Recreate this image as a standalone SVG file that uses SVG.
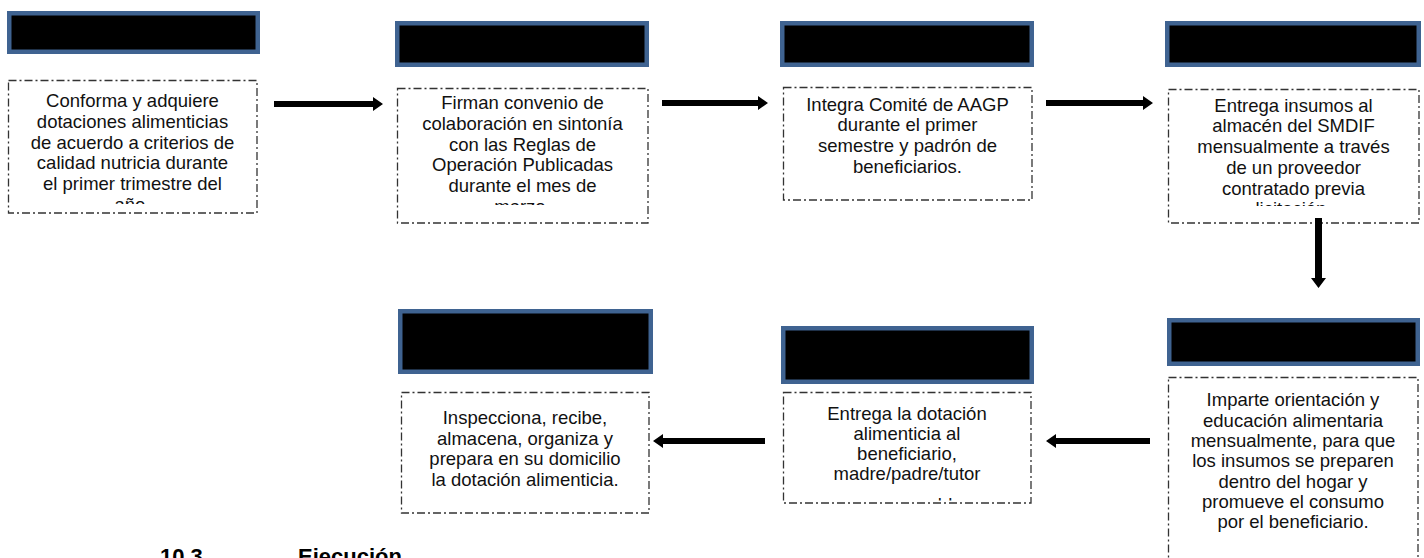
<svg xmlns="http://www.w3.org/2000/svg" width="1424" height="558" viewBox="0 0 1424 558">
<style>
.hdr{fill:#000;stroke:#3f6391;stroke-width:4.5}
.box{fill:#fff;stroke:#333;stroke-width:1.3;stroke-dasharray:8 3 2 3}
.t{font-family:"Liberation Sans",Arial,sans-serif;font-size:18.5px;fill:#111;text-anchor:middle}
.h{font-family:"Liberation Sans",Arial,sans-serif;font-size:22px;font-weight:bold;fill:#000}
.arr{fill:#000}
</style>
<defs>
<clipPath id="c1"><rect x="8" y="80" width="249" height="124"/></clipPath>
<clipPath id="c2"><rect x="397" y="88" width="251" height="117"/></clipPath>
<clipPath id="c4"><rect x="1168" y="89" width="251" height="117"/></clipPath>
<clipPath id="c6"><rect x="783" y="392" width="248" height="108.5"/></clipPath>
</defs>
<g id="n1">
<rect class="hdr" x="9.25" y="13.25" width="248.5" height="38.5"/>
<rect class="box" x="8.5" y="80.5" width="248.5" height="132.5"/>
<text class="t" clip-path="url(#c1)"><tspan x="132.5" y="107.3">Conforma y adquiere</tspan><tspan x="132.5" y="128">dotaciones alimenticias</tspan><tspan x="132.5" y="148.7">de acuerdo a criterios de</tspan><tspan x="132.5" y="169.4">calidad nutricia durante</tspan><tspan x="132.5" y="190.1">el primer trimestre del</tspan><tspan x="132.5" y="210.8">año.</tspan></text>
</g>
<g id="n2">
<rect class="hdr" x="397.25" y="23.25" width="249.5" height="41.5"/>
<rect class="box" x="397.5" y="88.5" width="250.5" height="134.5"/>
<text class="t" clip-path="url(#c2)"><tspan x="522.5" y="109.3">Firman convenio de</tspan><tspan x="522.5" y="130">colaboración en sintonía</tspan><tspan x="522.5" y="150.7">con las Reglas de</tspan><tspan x="522.5" y="171.4">Operación Publicadas</tspan><tspan x="522.5" y="192.1">durante el mes de</tspan><tspan x="522.5" y="212.8">marzo.</tspan></text>
</g>
<g id="n3">
<rect class="hdr" x="782.25" y="23.25" width="249.5" height="41.5"/>
<rect class="box" x="783.5" y="87.5" width="248.5" height="112.5"/>
<text class="t"><tspan x="907.5" y="110.7">Integra Comité de AAGP</tspan><tspan x="907.5" y="131.4">durante el primer</tspan><tspan x="907.5" y="152.1">semestre y padrón de</tspan><tspan x="907.5" y="172.8">beneficiarios.</tspan></text>
</g>
<g id="n4">
<rect class="hdr" x="1167.25" y="23.25" width="251.5" height="41.5"/>
<rect class="box" x="1168.5" y="89.5" width="250.5" height="133.5"/>
<text class="t" clip-path="url(#c4)"><tspan x="1293.5" y="111.7">Entrega insumos al</tspan><tspan x="1293.5" y="132.4">almacén del SMDIF</tspan><tspan x="1293.5" y="153.1">mensualmente a través</tspan><tspan x="1293.5" y="173.8">de un proveedor</tspan><tspan x="1293.5" y="194.5">contratado previa</tspan><tspan x="1293.5" y="215.2">licitación.</tspan></text>
</g>
<g id="n5">
<rect class="hdr" x="1169.25" y="320.25" width="248.5" height="43.5"/>
<rect class="box" x="1168.5" y="377.5" width="249.5" height="190"/>
<text class="t"><tspan x="1293" y="406">Imparte orientación y</tspan><tspan x="1293" y="426.5">educación alimentaria</tspan><tspan x="1293" y="447">mensualmente, para que</tspan><tspan x="1293" y="467.3">los insumos se preparen</tspan><tspan x="1293" y="487.5">dentro del hogar y</tspan><tspan x="1293" y="507.5">promueve el consumo</tspan><tspan x="1293" y="527.5">por el beneficiario.</tspan></text>
</g>
<g id="n6">
<rect class="hdr" x="783.25" y="328.25" width="248.5" height="53.5"/>
<rect class="box" x="783.5" y="392.5" width="247.5" height="110.5"/>
<text class="t" clip-path="url(#c6)"><tspan x="907" y="420">Entrega la dotación</tspan><tspan x="907" y="440">alimenticia al</tspan><tspan x="907" y="460">beneficiario,</tspan><tspan x="907" y="480">madre/padre/tutor</tspan><tspan x="907" y="511">o responsable.</tspan></text>
</g>
<g id="n7">
<rect class="hdr" x="400.25" y="311.25" width="250.5" height="60.5"/>
<rect class="box" x="401.5" y="392.5" width="247.5" height="120.5"/>
<text class="t"><tspan x="525" y="424">Inspecciona, recibe,</tspan><tspan x="525" y="444.5">almacena, organiza y</tspan><tspan x="525" y="465">prepara en su domicilio</tspan><tspan x="525" y="485.5">la dotación alimenticia.</tspan></text>
</g>
<g id="connectors">
<path class="arr" d="M274 101 H373 V97 L383 104 L373 111 V107 H274 Z"/>
<path class="arr" d="M662 100 H758 V96 L768 103 L758 110 V106 H662 Z"/>
<path class="arr" d="M1046 100 H1143 V96 L1153 103 L1143 110 V106 H1046 Z"/>
<path class="arr" d="M1315 218 V278 H1311 L1318.5 288 L1326 278 H1322 V218 Z"/>
<path class="arr" d="M1150 438 H1056 V434 L1046 441 L1056 448 V444 H1150 Z"/>
<path class="arr" d="M765 438 H663 V434 L653 441 L663 448 V444 H765 Z"/>
</g>
<g id="heading">
<text class="h" x="160" y="564">10.3</text>
<text class="h" x="298" y="564">Ejecución</text>
</g>
</svg>
